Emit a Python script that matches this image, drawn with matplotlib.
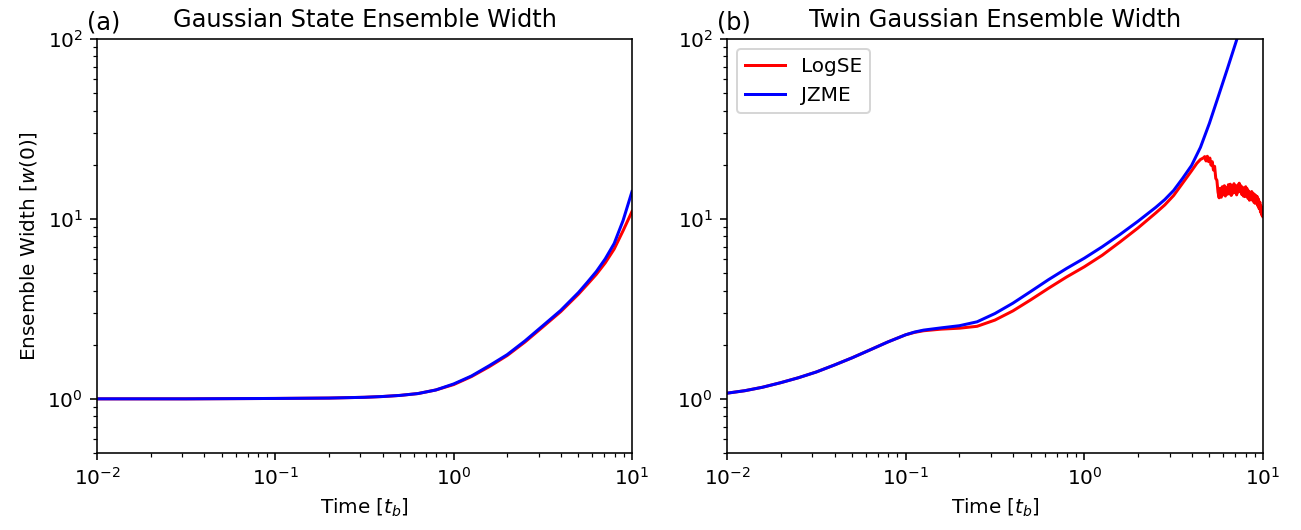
import matplotlib
matplotlib.use("Agg")
import matplotlib.pyplot as plt

# panel (a): single Gaussian state
t_a = [0.01, 0.0316, 0.1, 0.2, 0.316, 0.398, 0.501, 0.631, 0.794, 1.0,
       1.259, 1.585, 1.995, 2.512, 3.162, 3.981, 5.012, 5.623, 6.310, 7.079,
       7.943, 8.913, 10.0]
jzme_a = [1.0, 1.0, 1.005, 1.01, 1.02, 1.03, 1.045, 1.07, 1.12, 1.21,
          1.34, 1.53, 1.76, 2.1, 2.55, 3.1, 3.9, 4.45, 5.1, 6.0,
          7.3, 9.8, 14.2]
logse_a = [1.0, 1.0, 1.005, 1.01, 1.02, 1.03, 1.045, 1.07, 1.12, 1.2,
           1.33, 1.51, 1.74, 2.07, 2.51, 3.05, 3.82, 4.33, 4.92, 5.7,
           6.8, 8.6, 11.0]

# panel (b): twin Gaussian
t_b_jzme = [0.01, 0.0126, 0.0158, 0.02, 0.0251, 0.0316, 0.0398, 0.0501, 0.0631, 0.0794,
            0.1, 0.112, 0.126, 0.158, 0.2, 0.251, 0.316, 0.398, 0.501, 0.631,
            0.794, 1.0, 1.259, 1.585, 1.995, 2.512, 2.818, 3.162, 3.548, 3.981,
            4.467, 5.012, 5.623, 6.310, 7.079, 7.943]
jzme_b = [1.075, 1.11, 1.16, 1.23, 1.31, 1.41, 1.54, 1.69, 1.87, 2.07,
          2.27, 2.35, 2.41, 2.48, 2.55, 2.68, 2.98, 3.4, 3.95, 4.6,
          5.3, 6.05, 7.0, 8.2, 9.7, 11.6, 12.8, 14.4, 16.8, 19.8,
          25.0, 34.0, 48.0, 68.0, 97.0, 140.0]

t_b_logse = [0.01, 0.0126, 0.0158, 0.02, 0.0251, 0.0316, 0.0398, 0.0501, 0.0631, 0.0794,
             0.1, 0.112, 0.126, 0.158, 0.2, 0.251, 0.316, 0.398, 0.501, 0.631,
             0.794, 1.0, 1.259, 1.585, 1.995, 2.512, 2.818, 3.162, 3.548, 3.981,
             4.266, 4.467, 4.63,
             4.72, 4.80, 4.88, 4.96, 5.04, 5.12, 5.20, 5.28, 5.36, 5.44,
             5.52, 5.60, 5.68, 5.76, 5.84, 5.92, 6.00, 6.08, 6.16, 6.24,
             6.32, 6.40, 6.48, 6.56, 6.64, 6.72, 6.80, 6.88, 6.96, 7.04,
             7.12, 7.20, 7.28, 7.36, 7.44, 7.52, 7.60, 7.68, 7.76, 7.84,
             7.92, 8.00, 8.08, 8.16, 8.24, 8.32, 8.40, 8.48, 8.56, 8.64,
             8.72, 8.80, 8.88, 8.96, 9.04, 9.12, 9.20, 9.28, 9.36, 9.44,
             9.52, 9.60, 9.68, 9.76, 9.84, 9.92, 10.0]
logse_b = [1.075, 1.11, 1.16, 1.23, 1.31, 1.41, 1.54, 1.69, 1.87, 2.07,
           2.27, 2.34, 2.39, 2.44, 2.47, 2.53, 2.74, 3.08, 3.55, 4.12,
           4.75, 5.42, 6.28, 7.45, 8.9, 10.8, 11.95, 13.5, 15.8, 18.5,
           20.4, 21.4, 21.8,
           22.2, 21.0, 22.3, 20.8, 21.8, 19.9, 20.8, 18.7, 19.6, 16.8,
           16.4, 14.1, 13.1, 14.8, 13.2, 15.1, 13.6, 15.3, 13.4, 14.9,
           13.7, 15.5, 13.8, 15.6, 13.5, 15.1, 13.9, 15.7, 14.0, 15.2,
           13.6, 15.4, 14.1, 15.8, 14.2, 15.3, 13.7, 15.0, 13.4, 14.8,
           13.3, 15.1, 13.6, 14.7, 13.0, 14.3, 12.7, 14.0, 12.8, 14.2,
           12.7, 13.9, 12.4, 13.7, 12.2, 13.5, 12.3, 13.3, 11.8, 12.9,
           11.4, 12.4, 10.9, 11.8, 10.5, 11.2, 10.3]

DPI = 144
fig = plt.figure(figsize=(1301 / DPI, 530 / DPI), dpi=DPI)
ax_a = fig.add_axes([97 / 1301, 77 / 530, 535 / 1301, 414 / 530])
ax_b = fig.add_axes([727 / 1301, 77 / 530, 536 / 1301, 414 / 530])

ax_a.plot(t_a, logse_a, color="red", label="LogSE")
ax_a.plot(t_a, jzme_a, color="blue", label="JZME")
ax_b.plot(t_b_logse, logse_b, color="red", label="LogSE")
ax_b.plot(t_b_jzme, jzme_b, color="blue", label="JZME")

for ax, tag, title in [(ax_a, "(a)", "Gaussian State Ensemble Width"),
                       (ax_b, "(b)", "Twin Gaussian Ensemble Width")]:
    ax.set_xscale("log")
    ax.set_yscale("log")
    ax.set_xlim(1e-2, 1e1)
    ax.set_ylim(0.5, 1e2)
    ax.set_xlabel("Time [$t_b$]")
    ax.set_title(title)
    ax.text(-0.018, 1.024, tag, transform=ax.transAxes, fontsize=12,
            ha="left", va="baseline")

ax_a.set_ylabel("Ensemble Width [$w(0)$]")
ax_b.legend(loc="upper left")

fig.savefig("out.png", dpi=DPI)
